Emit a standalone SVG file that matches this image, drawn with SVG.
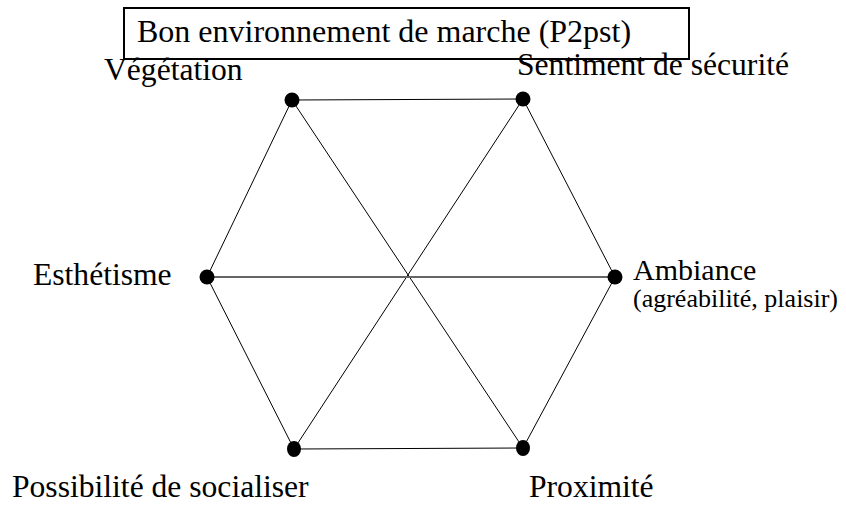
<svg xmlns="http://www.w3.org/2000/svg" width="846" height="508" viewBox="0 0 846 508">
  <style>
    .lbl { font-size: 31.6px; }
    .big { font-size: 32px; }
    .amb { font-size: 30px; }
    .sub { font-size: 26px; }
    .edge { stroke: #000; stroke-width: 1; fill: none; }
    .axis { stroke: #666; stroke-width: 2; fill: none; }
    .dot { fill: #000; }
  </style>
  <rect width="846" height="508" fill="#fff"/>

  <g font-family="'Liberation Serif', 'DejaVu Serif', 'Times New Roman', serif" fill="#000">
    <!-- title box -->
    <g id="title">
      <rect x="124" y="8" width="565" height="51" fill="none" stroke="#000" stroke-width="2"/>
      <text class="big" x="137" y="42">Bon environnement de marche (P2pst)</text>
    </g>

    <!-- connectors: hexagon outline and the three diagonals -->
    <g id="connectors">
      <line class="edge" x1="292" y1="100" x2="523" y2="99"/>
      <line class="edge" x1="523" y1="99" x2="615" y2="277"/>
      <line class="edge" x1="615" y1="277" x2="523" y2="448"/>
      <line class="edge" x1="523" y1="448" x2="294" y2="449"/>
      <line class="edge" x1="294" y1="449" x2="207" y2="277"/>
      <line class="edge" x1="207" y1="277" x2="292" y2="100"/>
      <line class="edge" x1="292" y1="100" x2="523" y2="448"/>
      <line class="edge" x1="523" y1="99" x2="294" y2="449"/>
      <line class="axis" x1="207" y1="277" x2="615" y2="277"/>
    </g>

    <g id="vegetation">
      <circle class="dot" cx="292" cy="100" r="7.5"/>
      <text class="lbl" x="104" y="80">Végétation</text>
    </g>
    <g id="securite">
      <circle class="dot" cx="523" cy="99" r="7.5"/>
      <text class="lbl" x="517" y="75">Sentiment de sécurité</text>
    </g>
    <g id="esthetisme">
      <circle class="dot" cx="207" cy="277" r="7.5"/>
      <text class="lbl" x="33" y="285">Esthétisme</text>
    </g>
    <g id="ambiance">
      <circle class="dot" cx="615" cy="277" r="7.5"/>
      <text class="amb" x="633" y="280">Ambiance</text>
      <text class="sub" x="633" y="307">(agréabilité, plaisir)</text>
    </g>
    <g id="socialiser">
      <ellipse class="dot" cx="294" cy="449" rx="7" ry="8"/>
      <text class="lbl" x="12" y="497">Possibilité de socialiser</text>
    </g>
    <g id="proximite">
      <ellipse class="dot" cx="523" cy="448" rx="7" ry="8"/>
      <text class="lbl" x="529" y="497">Proximité</text>
    </g>
  </g>
</svg>
